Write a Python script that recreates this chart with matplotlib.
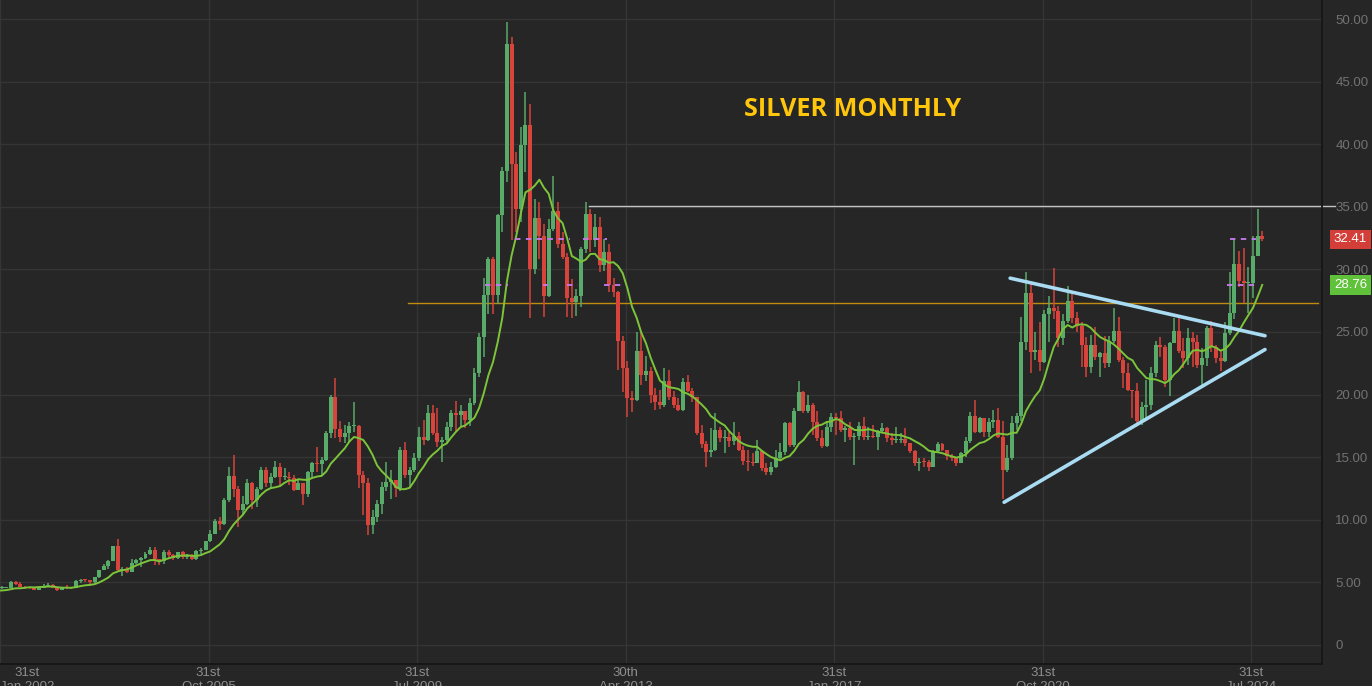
import numpy as np
import matplotlib.pyplot as plt

# monthly silver candles, Apr 2001 .. Nov 2024 (open = previous close)
first_open = 4.45
close = [
    4.38, 4.36, 4.26, 4.25, 4.23, 4.65, 4.12, 4.15, 4.58,                      # 2001 Apr-Dec
    4.23, 4.52, 4.55, 4.58, 5.00, 4.90, 4.65, 4.57, 4.55, 4.43, 4.53, 4.67,    # 2002
    4.80, 4.58, 4.42, 4.60, 4.57, 4.55, 5.10, 5.20, 5.15, 5.00, 5.40, 5.95,    # 2003
    6.30, 6.70, 7.90, 6.00, 6.10, 5.85, 6.55, 6.80, 6.95, 7.30, 7.60, 6.85,    # 2004
    6.70, 7.45, 7.15, 6.95, 7.40, 7.05, 7.20, 6.85, 7.50, 7.60, 8.30, 8.83,    # 2005
    9.90, 9.70, 11.55, 13.50, 12.45, 10.80, 11.30, 12.90, 11.55, 12.45, 14.00, 12.90,  # 2006
    13.40, 14.20, 13.40, 13.45, 13.30, 12.40, 12.90, 12.05, 13.85, 14.50, 14.45, 14.76,  # 2007
    16.90, 19.80, 17.25, 16.60, 16.90, 17.50, 17.50, 13.60, 12.90, 9.60, 10.20, 11.30,  # 2008
    12.60, 13.00, 13.15, 12.50, 15.60, 13.60, 14.00, 14.95, 16.60, 16.35, 18.55, 16.90,  # 2009
    16.20, 16.40, 17.40, 18.55, 18.40, 18.70, 17.95, 19.35, 21.75, 24.60, 27.95, 30.80,  # 2010
    27.95, 34.35, 37.90, 48.00, 38.40, 34.80, 39.90, 41.50, 30.00, 34.10, 32.70, 27.90,  # 2011
    33.20, 34.70, 32.00, 31.00, 27.70, 27.40, 27.90, 31.60, 34.40, 32.35, 33.40, 30.35,  # 2012
    31.40, 28.75, 28.20, 24.30, 22.10, 19.70, 19.60, 23.50, 21.60, 21.90, 20.00, 19.40,  # 2013
    19.20, 21.10, 19.80, 19.20, 18.80, 21.00, 20.30, 19.80, 16.90, 16.05, 15.40, 15.60,  # 2014
    17.20, 16.50, 16.60, 16.30, 16.70, 15.60, 14.70, 14.60, 14.55, 15.50, 14.10, 13.85,  # 2015
    14.20, 14.95, 15.40, 17.75, 16.00, 18.70, 20.20, 18.65, 19.15, 17.80, 16.50, 15.90,  # 2016
    17.45, 18.25, 18.10, 17.20, 17.30, 16.60, 16.70, 17.50, 16.60, 16.70, 16.60, 17.10,  # 2017
    17.30, 16.50, 16.40, 16.40, 16.45, 16.10, 15.50, 14.50, 14.65, 14.60, 14.20, 15.50,  # 2018
    16.05, 15.60, 15.10, 14.95, 14.55, 15.30, 16.30, 18.30, 17.00, 18.10, 17.00, 17.85,  # 2019
    18.00, 16.60, 14.00, 14.90, 17.75, 18.30, 24.20, 28.10, 23.40, 23.60, 22.60, 26.40,  # 2020
    26.90, 26.70, 24.50, 25.90, 27.50, 26.10, 25.50, 24.00, 22.20, 24.00, 23.00, 23.30,  # 2021
    22.50, 24.30, 25.10, 22.80, 21.70, 20.40, 20.30, 17.90, 19.00, 19.20, 21.70, 24.00,  # 2022
    23.80, 21.20, 24.10, 25.10, 23.50, 22.90, 24.50, 24.20, 22.40, 22.90, 25.30, 23.80,  # 2023
    22.90, 22.70, 24.90, 26.50, 30.40, 29.10, 28.90, 28.90, 31.10, 32.70, 32.41,         # 2024 Jan-Nov
]
high = [
    4.45, 4.60, 4.40, 4.32, 4.32, 4.82, 4.68, 4.25, 4.65,
    4.62, 4.55, 4.70, 4.66, 5.08, 5.10, 5.00, 4.70, 4.66, 4.60, 4.60, 4.85,
    4.96, 4.88, 4.62, 4.67, 4.80, 4.64, 5.18, 5.30, 5.25, 5.20, 5.45, 5.97,
    6.50, 6.80, 7.90, 8.45, 6.25, 6.20, 6.85, 6.90, 7.00, 7.45, 7.85, 7.80,
    6.85, 7.55, 7.55, 7.30, 7.45, 7.50, 7.30, 7.25, 7.55, 7.75, 8.30, 9.20,
    10.05, 10.20, 11.75, 14.20, 15.20, 12.70, 11.90, 13.25, 13.05, 12.65, 14.20, 14.20,
    13.70, 14.70, 14.50, 14.10, 13.80, 13.60, 13.25, 12.95, 13.90, 14.60, 15.80, 15.00,
    17.10, 20.00, 21.30, 17.90, 17.60, 17.80, 19.40, 17.60, 13.90, 13.30, 10.80, 11.60,
    13.00, 14.60, 14.00, 13.20, 15.80, 16.25, 14.20, 15.30, 17.40, 18.00, 19.20, 19.15,
    18.90, 16.60, 17.80, 18.80, 19.50, 19.20, 18.60, 19.70, 22.10, 24.90, 29.30, 31.00,
    31.00, 34.40, 38.20, 49.80, 48.60, 39.40, 41.40, 44.20, 43.20, 35.60, 35.40, 33.60,
    34.00, 37.50, 35.40, 33.00, 31.30, 29.20, 28.40, 31.80, 35.40, 34.80, 34.40, 34.20,
    32.40, 32.00, 29.30, 28.30, 24.70, 22.70, 20.30, 25.00, 25.10, 23.10, 22.20, 20.50,
    20.40, 22.10, 22.00, 20.30, 19.70, 21.30, 21.60, 20.50, 19.80, 17.60, 16.30, 17.30,
    18.50, 17.40, 17.20, 17.00, 17.80, 17.00, 15.90, 15.60, 15.30, 16.40, 15.50, 14.50,
    14.60, 15.60, 16.10, 17.80, 17.80, 18.90, 21.10, 20.30, 20.00, 19.30, 18.70, 17.20,
    17.90, 18.50, 18.50, 18.70, 17.50, 17.80, 16.90, 17.80, 18.20, 17.40, 17.60, 17.20,
    17.70, 17.40, 16.90, 17.40, 16.90, 17.30, 16.10, 15.60, 14.90, 14.90, 14.80, 15.60,
    16.20, 16.10, 15.60, 15.25, 15.00, 15.40, 16.60, 18.60, 19.60, 18.20, 18.10, 18.10,
    18.80, 18.90, 17.90, 16.00, 18.30, 18.50, 26.20, 29.80, 28.90, 25.00, 25.80, 26.75,
    27.90, 30.10, 27.10, 26.40, 28.70, 28.30, 26.60, 25.80, 24.60, 24.80, 25.40, 23.40,
    24.70, 24.70, 26.90, 26.20, 23.00, 22.50, 20.40, 20.90, 19.40, 21.20, 22.20, 24.30,
    24.60, 24.00, 24.20, 26.10, 26.10, 24.50, 25.30, 25.00, 24.80, 23.70, 25.50, 25.90,
    24.00, 23.50, 25.80, 29.80, 32.50, 31.50, 31.70, 30.20, 32.70, 34.80, 33.10,
]
low = [
    4.30, 4.30, 4.22, 4.15, 4.12, 4.20, 4.05, 4.05, 4.12,
    4.20, 4.20, 4.48, 4.52, 4.55, 4.78, 4.60, 4.50, 4.50, 4.40, 4.42, 4.52,
    4.60, 4.55, 4.35, 4.40, 4.50, 4.45, 4.55, 4.98, 5.00, 4.85, 4.95, 5.35,
    5.95, 6.10, 6.70, 5.90, 5.50, 5.75, 5.80, 6.45, 6.25, 6.90, 7.15, 6.40,
    6.35, 6.50, 6.95, 6.80, 6.85, 6.90, 6.90, 6.75, 6.80, 7.30, 7.55, 8.25,
    8.85, 9.15, 9.60, 11.40, 11.80, 9.40, 10.40, 11.20, 10.90, 11.00, 12.40, 12.60,
    12.50, 13.30, 12.60, 13.20, 12.80, 12.30, 12.40, 11.20, 11.85, 13.30, 13.80, 13.50,
    14.70, 16.50, 16.50, 16.20, 16.10, 16.20, 17.00, 12.50, 10.40, 8.80, 8.90, 9.80,
    10.50, 12.30, 11.70, 11.80, 12.30, 13.30, 12.50, 13.80, 14.70, 16.00, 16.30, 16.80,
    15.80, 14.60, 16.10, 17.10, 17.10, 17.50, 17.35, 17.50, 19.20, 21.40, 23.00, 26.40,
    26.40, 27.20, 33.00, 37.00, 32.35, 33.00, 33.80, 37.80, 26.10, 29.60, 30.80, 26.20,
    27.80, 33.10, 31.70, 30.80, 26.20, 26.10, 26.30, 27.00, 31.30, 31.40, 31.80, 29.80,
    29.90, 28.20, 27.80, 22.00, 20.20, 18.20, 18.60, 19.50, 20.80, 21.10, 19.30, 18.80,
    18.85, 19.00, 19.60, 18.90, 18.70, 18.70, 20.20, 19.40, 16.80, 15.70, 14.20, 15.00,
    15.50, 16.20, 15.30, 15.80, 16.00, 15.50, 14.40, 13.90, 14.30, 14.60, 13.90, 13.60,
    13.60, 14.10, 14.70, 15.20, 15.80, 15.80, 18.70, 18.50, 18.50, 16.80, 16.30, 15.70,
    15.80, 17.00, 16.80, 17.00, 16.20, 16.40, 14.40, 16.40, 16.40, 16.40, 16.50, 15.60,
    16.90, 16.20, 16.00, 16.10, 16.10, 15.90, 15.30, 14.30, 13.90, 14.20, 13.90, 14.20,
    15.40, 15.50, 14.80, 14.70, 14.30, 14.50, 15.00, 16.10, 16.90, 16.90, 16.60, 16.60,
    17.30, 16.50, 11.65, 13.85, 14.80, 17.20, 17.90, 23.60, 21.70, 22.80, 21.90, 22.50,
    24.20, 26.00, 23.80, 24.00, 25.70, 25.70, 25.00, 22.20, 21.40, 21.70, 22.80, 21.40,
    22.10, 22.20, 24.10, 22.60, 20.50, 20.30, 18.15, 17.60, 17.55, 18.10, 18.80, 21.40,
    23.00, 20.60, 19.90, 24.50, 23.30, 22.10, 22.40, 22.20, 22.10, 20.70, 22.30, 23.40,
    22.50, 21.90, 22.60, 24.80, 26.00, 28.60, 27.30, 26.50, 27.70, 31.10, 32.30,
]

# bottom axis labels (month index from Jan 2002)
tick_idx = [0, 45, 90, 135, 180, 225, 270]
tick_day = ["31st", "31st", "31st", "30th", "31st", "31st", "31st"]
tick_month = ["Jan 2002", "Oct 2005", "Jul 2009", "Apr 2013", "Jan 2017", "Oct 2020", "Jul 2024"]
price_ticks = [0, 5, 10, 15, 20, 25, 30, 35, 40, 45, 50]

# drawn lines
resist_level = 35.1
gold_level = 27.35
upper_trend = ([219.6, 274.6], [29.3, 24.7])
lower_trend = ([218.3, 274.6], [11.4, 23.6])

close = np.array(close)
high = np.array(high)
low = np.array(low)
opn = np.concatenate([[first_open], close[:-1]])
x = np.arange(len(close)) - 9
ma = np.convolve(close, np.ones(10) / 10, mode="full")[:len(close)]
ma[:9] = np.nan

BG = "#262626"
GREEN = "#58ab69"
RED = "#d8433b"
off = 1.6  # tick dates sit at month end

fig = plt.figure(figsize=(13.72, 6.86), dpi=100, facecolor=BG)
ax = fig.add_axes([0, 22 / 686, 1322 / 1372, 664 / 686])
ax.set_facecolor(BG)
ax.set_xlim(1.6, 286.9)
ax.set_ylim(-1.52, 51.52)

for t in price_ticks:
    ax.axhline(t, color="#353535", lw=1, zorder=0)
for t in tick_idx:
    ax.axvline(t + off, color="#353535", lw=1, zorder=0)

up = close >= opn
col = np.where(up, GREEN, RED)
ax.vlines(x, low, high, colors=col, lw=1.1, zorder=2)
body = np.maximum(np.abs(close - opn), 0.08)
ax.bar(x, body, bottom=np.minimum(opn, close), width=0.86, color=col, lw=0, zorder=3)

ax.plot(x, ma, color="#7cc53a", lw=1.4, zorder=4)

# horizontal levels
ax.plot([89.7, 286.1], [gold_level] * 2, color="#c08c10", lw=1.0, zorder=1)
ax.plot([128.7, 289.7], [resist_level] * 2, color="#c4c4c4", lw=1.0, zorder=1, clip_on=False)

# dashed level marks
for a, b in [(112.8, 124.6), (127.4, 132.6), (267.1, 272.7)]:
    ax.plot([a, b], [32.41] * 2, color="#c77bef", lw=1.3, ls=(0, (3, 3)), zorder=5)
for a, b in [(106.3, 111.2), (118.8, 119.9), (124.0, 126.4), (132.0, 136.5), (266.4, 273.1)]:
    ax.plot([a, b], [28.76] * 2, color="#c77bef", lw=1.3, ls=(0, (3, 3)), zorder=5)

# triangle
ax.plot(*upper_trend, color="#a9dcf2", lw=2.6, solid_capstyle="round", zorder=6)
ax.plot(*lower_trend, color="#a9dcf2", lw=2.6, solid_capstyle="round", zorder=6)

ax.text(0.645, 0.835, "SILVER MONTHLY", transform=ax.transAxes, ha="center", va="center",
        color="#ffc60b", fontsize=18.2, fontweight="bold", family="Open Sans")

# axes styling
for s in ["top", "left"]:
    ax.spines[s].set_visible(False)
for s in ["right", "bottom"]:
    ax.spines[s].set_color("#161616")
    ax.spines[s].set_linewidth(1.3)

ax.yaxis.tick_right()
ax.set_yticks(price_ticks)
ax.set_yticklabels(["0" if v == 0 else f"{v:.2f}" for v in price_ticks])
ax.tick_params(axis="y", length=0, pad=9.5, labelsize=9.5, labelcolor="#727272")
ax.set_xticks([t + off for t in tick_idx])
ax.set_xticklabels([f"{d}\n{m}" for d, m in zip(tick_day, tick_month)])
ax.tick_params(axis="x", length=0, pad=2, labelsize=9.5, labelcolor="#8e8e8e")
for lab in ax.get_xticklabels() + ax.get_yticklabels():
    lab.set_family("Liberation Sans")
    lab.set_multialignment("center")
ax.get_xticklabels()[0].set_horizontalalignment("left")

# last price / moving average labels
yt = ax.get_yaxis_transform()
ax.text(1.0215, close[-1], f"{close[-1]:.2f}", transform=yt, ha="center", va="center",
        color="white", fontsize=9.5, family="Liberation Sans",
        bbox=dict(boxstyle="square,pad=0.28", fc="#d33f38", ec="none"))
ax.text(1.0215, ma[-1], f"{ma[-1]:.2f}", transform=yt, ha="center", va="center",
        color="white", fontsize=9.5, family="Liberation Sans",
        bbox=dict(boxstyle="square,pad=0.28", fc="#5fc23a", ec="none"))

fig.savefig("out.png", dpi=100, facecolor=BG)
